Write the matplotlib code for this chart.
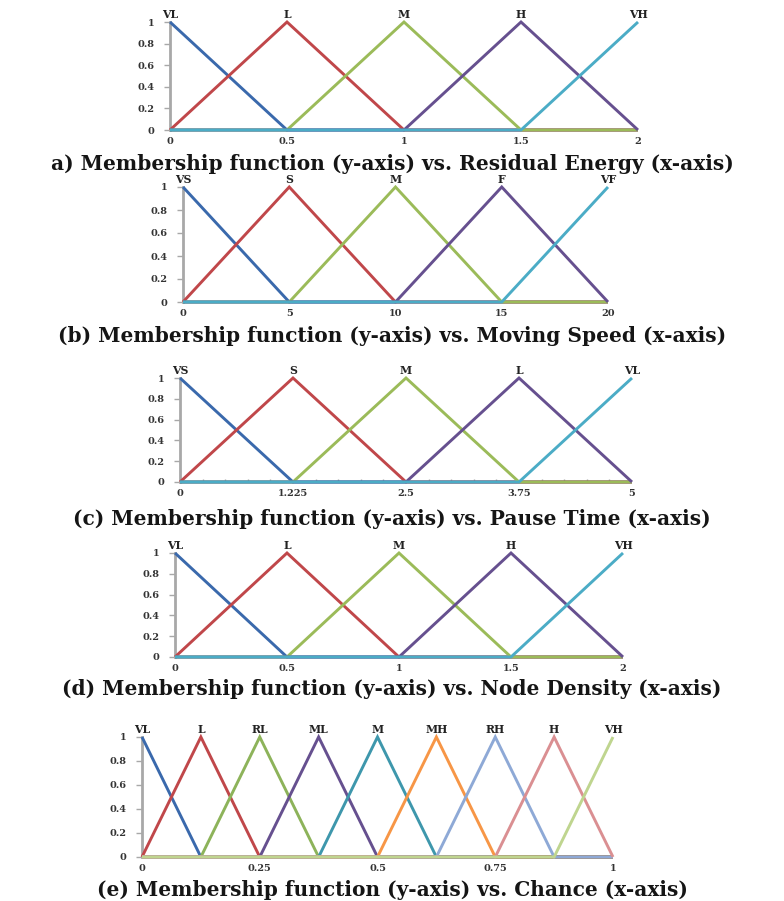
import matplotlib
matplotlib.use('Agg')
import matplotlib.pyplot as plt
from matplotlib.ticker import FixedLocator, MultipleLocator

# ---------------- data ----------------
# Panel (a) Residual Energy
a_peaks = [0, 0.5, 1, 1.5, 2]
a_names = ['VL', 'L', 'M', 'H', 'VH']
a_ticks = [0, 0.5, 1, 1.5, 2]
a_ticklabels = ['0', '0.5', '1', '1.5', '2']

# Panel (b) Moving Speed
b_peaks = [0, 5, 10, 15, 20]
b_names = ['VS', 'S', 'M', 'F', 'VF']
b_ticks = [0, 5, 10, 15, 20]
b_ticklabels = ['0', '5', '10', '15', '20']

# Panel (c) Pause Time
c_peaks = [0, 1.25, 2.5, 3.75, 5]
c_names = ['VS', 'S', 'M', 'L', 'VL']
c_ticks = [0, 1.25, 2.5, 3.75, 5]
c_ticklabels = ['0', '1.225', '2.5', '3.75', '5']

# Panel (d) Node Density
d_peaks = [0, 0.5, 1, 1.5, 2]
d_names = ['VL', 'L', 'M', 'H', 'VH']
d_ticks = [0, 0.5, 1, 1.5, 2]
d_ticklabels = ['0', '0.5', '1', '1.5', '2']

# Panel (e) Chance
e_peaks = [0, 0.125, 0.25, 0.375, 0.5, 0.625, 0.75, 0.875, 1]
e_names = ['VL', 'L', 'RL', 'ML', 'M', 'MH', 'RH', 'H', 'VH']
e_ticks = [0, 0.25, 0.5, 0.75, 1]
e_ticklabels = ['0', '0.25', '0.5', '0.75', '1']

# membership degree of each set at each peak point (triangular MFs)
mf5 = [
    [1, 0, 0, 0, 0],
    [0, 1, 0, 0, 0],
    [0, 0, 1, 0, 0],
    [0, 0, 0, 1, 0],
    [0, 0, 0, 0, 1],
]
mf9 = [[1 if i == j else 0 for j in range(9)] for i in range(9)]

y_ticks = [0, 0.2, 0.4, 0.6, 0.8, 1]
y_ticklabels = ['0', '0.2', '0.4', '0.6', '0.8', '1']

captions = [
    'a) Membership function (y-axis) vs. Residual Energy (x-axis)',
    '(b) Membership function (y-axis) vs. Moving Speed (x-axis)',
    '(c) Membership function (y-axis) vs. Pause Time (x-axis)',
    '(d) Membership function (y-axis) vs. Node Density (x-axis)',
    '(e) Membership function (y-axis) vs. Chance (x-axis)',
]

# ---------------- style ----------------
colors5 = ['#3A69AC', '#C0474A', '#9BBB59', '#66508F', '#4BACC6']
colors9 = ['#3A69AC', '#C0474A', '#8DB35A', '#66508F', '#3E97AC',
           '#F79646', '#8EA9D6', '#DA8F92', '#BFD58F']

W, H = 784, 901
fig = plt.figure(figsize=(W / 100, H / 100), dpi=100)

def px_axes(x0, x1, ytop, ybot):
    return [x0 / W, 1 - ybot / H, (x1 - x0) / W, (ybot - ytop) / H]

panels = [
    (a_peaks, a_names, a_ticks, a_ticklabels, mf5, colors5, px_axes(170, 638, 22, 130), 170),
    (b_peaks, b_names, b_ticks, b_ticklabels, mf5, colors5, px_axes(183, 608, 187, 302), 342),
    (c_peaks, c_names, c_ticks, c_ticklabels, mf5, colors5, px_axes(180, 632, 378, 482), 525),
    (d_peaks, d_names, d_ticks, d_ticklabels, mf5, colors5, px_axes(175, 623, 553, 657), 695),
    (e_peaks, e_names, e_ticks, e_ticklabels, mf9, colors9, px_axes(142, 613, 737, 857), 896),
]

serif = ['DejaVu Serif']

for idx, (peaks, names, ticks, tlabels, mf, cols, rect, cap_y) in enumerate(panels):
    ax = fig.add_axes(rect)
    for vals, col in zip(mf, cols):
        ax.plot(peaks, vals, color=col, lw=2.1, solid_capstyle='butt',
                solid_joinstyle='miter', clip_on=False, zorder=3)
    for p, n in zip(peaks, names):
        ax.text(p, 1.015, n, ha='center', va='bottom', fontsize=7.8,
                fontweight='bold', family=serif, color='#222222')
    ax.set_xlim(peaks[0], peaks[-1])
    ax.set_ylim(0, 1)
    ax.xaxis.set_major_locator(FixedLocator(ticks))
    ax.set_xticklabels(tlabels)
    ax.yaxis.set_major_locator(FixedLocator(y_ticks))
    ax.set_yticklabels(y_ticklabels)
    for s in ['top', 'right', 'bottom']:
        ax.spines[s].set_visible(False)
    ax.spines['left'].set_color('#A8A8A8')
    ax.spines['left'].set_linewidth(2.0)
    ax.tick_params(axis='y', length=4, width=1, color='#A8A8A8', pad=7,
                   labelsize=7, labelcolor='#333333')
    ax.tick_params(axis='x', length=0, pad=5, labelsize=7,
                   labelcolor='#333333')
    if idx == 2:
        ax.xaxis.set_minor_locator(MultipleLocator(0.25))
        ax.tick_params(axis='x', which='minor', length=2, width=1,
                       color='#A8A8A8', direction='in')
    for lab in ax.get_xticklabels() + ax.get_yticklabels():
        lab.set_fontfamily(serif)
        lab.set_fontweight('bold')
    ax.patch.set_alpha(0)
    fig.text(0.5, 1 - cap_y / H, captions[idx], ha='center', va='baseline',
             fontsize=14.5, fontweight='bold', family=serif, color='#151515')

fig.savefig('out.png', dpi=100, facecolor='white')
